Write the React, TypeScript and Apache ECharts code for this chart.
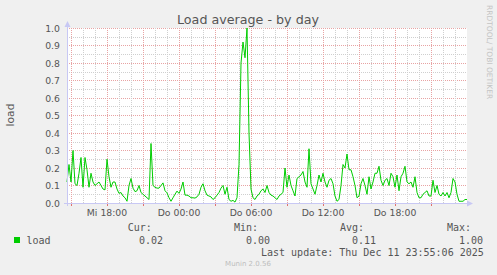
import React, { useEffect, useRef } from "react";
import * as echarts from "echarts";

// Time axis: minutes since Wednesday 00:00, one sample every 10 minutes
const START_MINUTE = 880; // Mi 14:40
const STEP_MINUTES = 10;
const DAY_NAMES = ["Mi", "Do", "Fr"];

const LOAD = [
  0.12, 0.22, 0.12, 0.30, 0.11, 0.10, 0.17, 0.26, 0.09, 0.26,
  0.19, 0.09, 0.17, 0.12, 0.10, 0.11, 0.12, 0.10, 0.08, 0.075,
  0.25, 0.15, 0.09, 0.12, 0.12, 0.08, 0.055, 0.06, 0.04, 0.03,
  0.01, 0.10, 0.14, 0.085, 0.065, 0.07, 0.10, 0.06, 0.05, 0.04,
  0.03, 0.02, 0.34, 0.10, 0.09, 0.085, 0.085, 0.10, 0.115, 0.07,
  0.058, 0.03, 0.01, 0.03, 0.05, 0.068, 0.055, 0.08, 0.12, 0.045,
  0.045, 0.04, 0.03, 0.03, 0.028, 0.035, 0.05, 0.09, 0.11, 0.07,
  0.045, 0.04, 0.035, 0.02, 0.03, 0.045, 0.06, 0.085, 0.10, 0.05,
  0.09, 0.02, 0.01, 0.015, 0.005, 0.03, 0.22, 0.80, 0.92, 0.83,
  1.00, 0.40, 0.08, 0.03, 0.02, 0.04, 0.05, 0.07, 0.08, 0.06,
  0.10, 0.06, 0.045, 0.04, 0.03, 0.02, 0.04, 0.05, 0.06, 0.20,
  0.09, 0.16, 0.10, 0.07, 0.04, 0.14, 0.15, 0.16, 0.18, 0.12,
  0.09, 0.31, 0.11, 0.08, 0.05, 0.10, 0.16, 0.12, 0.17, 0.12,
  0.09, 0.13, 0.14, 0.11, 0.04, 0.01, 0.02, 0.10, 0.22, 0.20,
  0.28, 0.19, 0.19, 0.15, 0.10, 0.03, 0.04, 0.11, 0.14, 0.10,
  0.05, 0.15, 0.08, 0.12, 0.17, 0.17, 0.21, 0.13, 0.10, 0.13,
  0.14, 0.10, 0.17, 0.15, 0.09, 0.16, 0.07, 0.15, 0.17, 0.21,
  0.12, 0.11, 0.12, 0.09, 0.15, 0.06, 0.03, 0.03, 0.05, 0.06,
  0.07, 0.04, 0.04, 0.13, 0.06, 0.10, 0.05, 0.04, 0.06, 0.04,
  0.06, 0.03, 0.06, 0.14, 0.12, 0.05, 0.01, 0.01, 0.01, 0.02,
  0.02,
];

const CATEGORIES = LOAD.map((_, i) => String(START_MINUTE + i * STEP_MINUTES));

const TITLE = "Load average - by day";
const Y_NAME = "load";
const SERIES_NAME = "load";
const STAT_LABELS = ["Cur:", "Min:", "Avg:", "Max:"];
const STAT_VALUES = ["0.02", "0.00", "0.11", "1.00"];
const LAST_UPDATE = "Last update: Thu Dec 11 23:55:06 2025";
const FOOTER = "Munin 2.0.56";
const SIDE_TEXT = "RRDTOOL/ TOBI OETIKER";

const SANS = "'DejaVu Sans', sans-serif";
const MONO = "'DejaVu Sans Mono', monospace";
const TEXT_COLOR = "#555555";
const LINE_COLOR = "#00cc00";
const AXIS_COLOR = "#c8c8f4";
const MAJOR_GRID = "#e8a3a3";
const MINOR_GRID = "#cfcfcf";

const lastIndex = CATEGORIES.length - 1;

function fmtTime(v: string) {
  const m = Number(v);
  const day = DAY_NAMES[Math.floor(m / 1440)];
  const hh = Math.floor((m % 1440) / 60);
  return `${day} ${String(hh).padStart(2, "0")}:00`;
}

export default function App() {
  const ref = useRef<HTMLDivElement>(null);

  useEffect(() => {
    if (!ref.current) return;
    const chart = echarts.init(ref.current, undefined, { renderer: "svg" });

    const statLabelX = [127.7, 234, 340, 447];
    const statValueX = [139, 246, 352, 459];

    const graphic: any[] = [
      // title
      {
        type: "text",
        style: { text: TITLE, x: 248, y: 19, font: `12.7px ${SANS}`, fill: TEXT_COLOR, textAlign: "center", textVerticalAlign: "middle" },
      },
      // y name
      {
        type: "text",
        x: 10,
        y: 115,
        rotation: Math.PI / 2,
        style: { text: Y_NAME, x: 0, y: 0, font: `10.7px ${SANS}`, fill: TEXT_COLOR, textAlign: "center", textVerticalAlign: "middle" },
      },
      // side text
      {
        type: "text",
        x: 489,
        y: 5,
        rotation: -Math.PI / 2,
        style: { text: SIDE_TEXT, x: 0, y: 0, font: `7.5px ${SANS}`, fill: "#c4c4c4", textAlign: "left", textVerticalAlign: "middle" },
      },
      // axis lines with arrows
      { type: "line", shape: { x1: 67.5, y1: 206, x2: 67.5, y2: 25 }, style: { stroke: AXIS_COLOR, lineWidth: 1 }, z: 100 },
      { type: "polygon", shape: { points: [[64.5, 27], [70.5, 27], [67.5, 21]] }, style: { fill: AXIS_COLOR }, z: 100 },
      { type: "line", shape: { x1: 64, y1: 203.5, x2: 468, y2: 203.5 }, style: { stroke: AXIS_COLOR, lineWidth: 1 }, z: 100 },
      { type: "polygon", shape: { points: [[467, 200.5], [467, 206.5], [473, 203.5]] }, style: { fill: AXIS_COLOR }, z: 100 },
      // legend
      { type: "rect", shape: { x: 14, y: 237, width: 6, height: 6 }, style: { fill: LINE_COLOR } },
      {
        type: "text",
        style: { text: SERIES_NAME, x: 26.5, y: 240, font: `10px ${MONO}`, fill: TEXT_COLOR, textAlign: "left", textVerticalAlign: "middle" },
      },
      {
        type: "text",
        style: { text: LAST_UPDATE, x: 261, y: 252, font: `10px ${MONO}`, fill: TEXT_COLOR, textAlign: "left", textVerticalAlign: "middle" },
      },
      {
        type: "text",
        style: { text: FOOTER, x: 248, y: 264, font: `7px ${SANS}`, fill: "#bdbdbd", textAlign: "center", textVerticalAlign: "middle" },
      },
    ];
    STAT_LABELS.forEach((t, i) => {
      graphic.push({
        type: "text",
        style: { text: t, x: statLabelX[i], y: 227.5, font: `10px ${MONO}`, fill: TEXT_COLOR, textAlign: "left", textVerticalAlign: "middle" },
      });
      graphic.push({
        type: "text",
        style: { text: STAT_VALUES[i], x: statValueX[i], y: 240, font: `10px ${MONO}`, fill: TEXT_COLOR, textAlign: "left", textVerticalAlign: "middle" },
      });
    });

    chart.setOption({
      animation: false,
      backgroundColor: "#f0f0f0",
      grid: {
        left: 67,
        top: 28,
        width: 400,
        height: 175,
        show: true,
        backgroundColor: "#ffffff",
        borderWidth: 0,
      },
      xAxis: [
        {
          type: "category",
          data: CATEGORIES,
          boundaryGap: false,
          axisLine: { show: false },
          axisTick: { show: false },
          axisLabel: {
            interval: (idx: number, v: string) => {
              const m = Number(v);
              return idx > 0 && idx < lastIndex && m % 360 === 0;
            },
            formatter: (v: string) => fmtTime(v),
            color: TEXT_COLOR,
            fontFamily: SANS,
            fontSize: 9.3,
            margin: 5,
          },
          splitLine: {
            show: true,
            interval: (idx: number, v: string) => {
              const m = Number(v);
              return idx > 0 && idx < lastIndex && m % 60 === 0 && m % 180 !== 0;
            },
            lineStyle: { color: MINOR_GRID, type: [1, 1], width: 1 },
          },
        },
        {
          type: "category",
          data: CATEGORIES,
          boundaryGap: false,
          position: "bottom",
          axisLine: { show: false },
          axisLabel: { show: false },
          axisTick: {
            show: true,
            length: 3,
            interval: (idx: number, v: string) => idx > 0 && idx < lastIndex && Number(v) % 180 === 0,
            lineStyle: { color: "#e07070", width: 1 },
          },
          splitLine: {
            show: true,
            interval: (idx: number, v: string) => idx > 0 && idx < lastIndex && Number(v) % 180 === 0,
            lineStyle: { color: MAJOR_GRID, type: [1, 1], width: 1 },
          },
        },
      ],
      yAxis: {
        type: "value",
        min: 0,
        max: 1,
        interval: 0.1,
        axisLine: { show: false },
        axisTick: { show: false },
        axisLabel: {
          formatter: (v: number) => v.toFixed(1),
          color: TEXT_COLOR,
          fontFamily: SANS,
          fontSize: 9.3,
          margin: 7,
        },
        splitLine: { show: true, lineStyle: { color: MAJOR_GRID, type: [1, 1], width: 1 } },
        minorTick: { show: false, splitNumber: 2 },
        minorSplitLine: { show: true, lineStyle: { color: MINOR_GRID, type: [1, 1], width: 1 } },
      },
      series: [
        {
          name: SERIES_NAME,
          type: "line",
          xAxisIndex: 0,
          data: LOAD,
          showSymbol: false,
          symbol: "none",
          lineStyle: { color: LINE_COLOR, width: 1 },
          z: 10,
        },
      ],
      graphic,
    });

    return () => chart.dispose();
  }, []);

  return (
    <div
      ref={ref}
      style={{ position: "fixed", left: 0, top: 0, width: 497, height: 275 }}
    />
  );
}
